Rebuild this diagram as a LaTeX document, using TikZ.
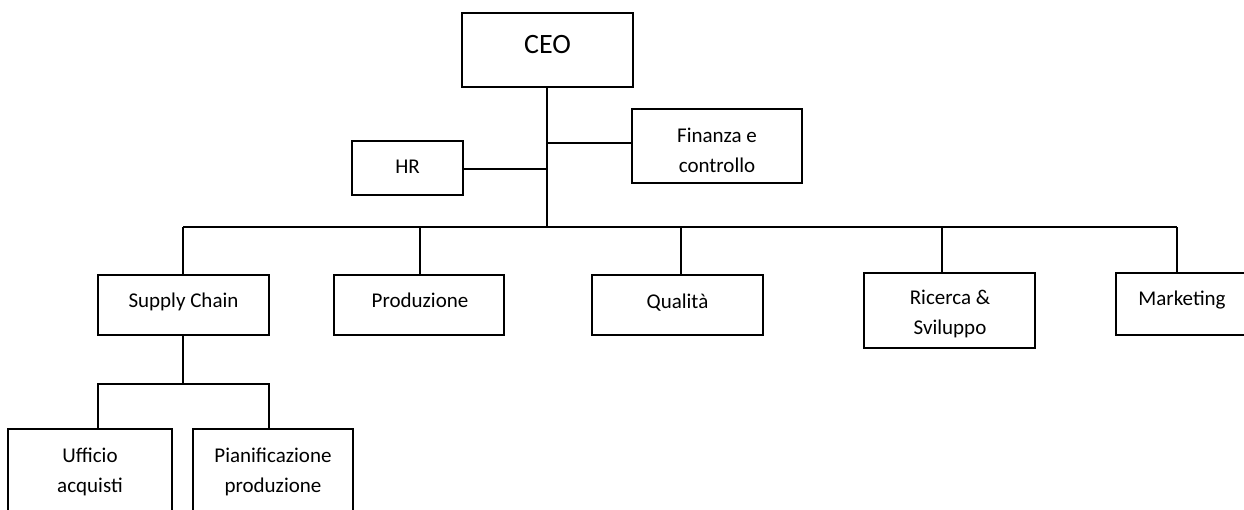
\documentclass[tikz,border=0pt]{standalone}
\usepackage{fontspec}
\setmainfont{Carlito}
\usetikzlibrary{calc}
\begin{document}
\begin{tikzpicture}[x=1pt,y=-1pt,
  unit/.style={draw=black,line width=1.6pt,rectangle,inner sep=0pt},
  lbl/.style={inner sep=0pt,anchor=base,font=\fontsize{21}{30}\selectfont},
  link/.style={draw=black,line width=1.6pt}]
\useasboundingbox (0,0) rectangle (1244,509);
\clip (0,0) rectangle (1244,509);

% boxes (centre, width, height)
\node[unit,minimum width=171,minimum height=74] (ceo)  at (547.5,50)  {};
\node[unit,minimum width=111,minimum height=54] (hr)   at (407.5,168) {};
\node[unit,minimum width=170,minimum height=74] (fin)  at (717,146)   {};
\node[unit,minimum width=171,minimum height=60] (sc)   at (183.5,305) {};
\node[unit,minimum width=170,minimum height=60] (prod) at (419,305)   {};
\node[unit,minimum width=171,minimum height=60] (qual) at (677.5,305) {};
\node[unit,minimum width=171,minimum height=75] (rs)   at (949.5,310.5) {};
\node[unit,minimum width=132,minimum height=62] (mkt)  at (1182,304)  {};
\node[unit,minimum width=164,minimum height=110] (uff) at (90,484)    {};
\node[unit,minimum width=160,minimum height=110] (pian) at (273,484)  {};

% labels
\node[lbl,font=\fontsize{28}{34}\selectfont] (tceo) at (547.5,53) {CEO};
\node[lbl] (thr)   at (407.5,173) {HR};
\node[lbl] (tfin1) at (717,142) {Finanza e};
\node[lbl] (tfin2) at (717,172) {controllo};
\node[lbl] (tsc)   at (183.5,307) {Supply Chain};
\node[lbl] (tprod) at (420,307) {Produzione};
\node[lbl] (tqual) at (677.5,308) {Qualità};
\node[lbl] (trs1)  at (950,304) {Ricerca \&};
\node[lbl] (trs2)  at (950,334) {Sviluppo};
\node[lbl] (tmkt)  at (1182,305) {Marketing};
\node[lbl] (tuff1) at (90,462) {Ufficio};
\node[lbl] (tuff2) at (90,492) {acquisti};
\node[lbl] (tpia1) at (273,462) {Pianificazione};
\node[lbl] (tpia2) at (273,492) {produzione};

% junction points
\coordinate (bus) at (547,227);
\coordinate (hrj) at (547,169);
\coordinate (finj) at (547,143);
\coordinate (sbus) at (183,384);
\coordinate (xsc) at (183,0);
\coordinate (xprod) at (420,0);
\coordinate (xqual) at (681,0);
\coordinate (xrs) at (942,0);
\coordinate (xmkt) at (1177,0);
\coordinate (xuff) at (98,0);
\coordinate (xpian) at (269,0);

% staff lines
\draw[link] (ceo.south -| bus) -- (bus);
\draw[link] (hr.east |- hrj) -- (hrj);
\draw[link] (finj) -- (fin.west |- finj);

% department bus
\draw[link] (bus -| xsc) -- (bus -| xmkt);
\draw[link] (bus -| xsc)   -- (sc.north -| xsc);
\draw[link] (bus -| xprod) -- (prod.north -| xprod);
\draw[link] (bus -| xqual) -- (qual.north -| xqual);
\draw[link] (bus -| xrs)   -- (rs.north -| xrs);
\draw[link] (bus -| xmkt)  -- (mkt.north -| xmkt);

% supply chain sub-units
\draw[link] (sc.south -| xsc) -- (sbus);
\draw[link] (uff.north -| xuff) -- (sbus -| xuff) -- (sbus -| xpian) -- (pian.north -| xpian);
\end{tikzpicture}
\end{document}
